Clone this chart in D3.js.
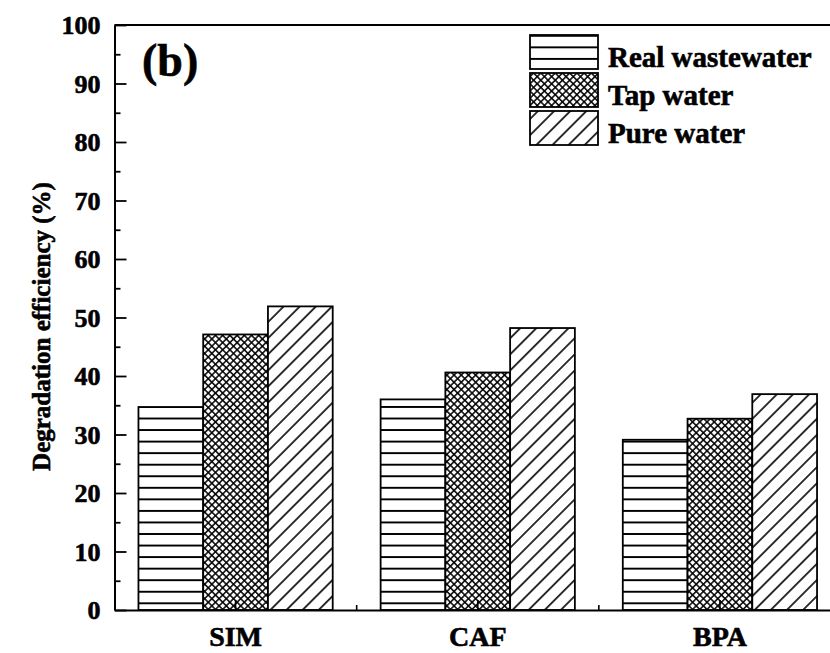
<!DOCTYPE html>
<html>
<head>
<meta charset="utf-8">
<script src="https://cdn.jsdelivr.net/npm/d3@7/dist/d3.min.js"></script>
<style>
  html, body { margin: 0; padding: 0; background: #fff; }
  svg { display: block; }
  text { font-family: "Liberation Serif", "Times New Roman", serif; font-weight: bold; fill: #000; stroke: #000; stroke-width: 0.6px; }
</style>
</head>
<body>
<svg id="chart" width="830" height="653"></svg>
<script>
// ---- data ----
const categories = ["SIM", "CAF", "BPA"];
const seriesNames = ["Real wastewater", "Tap water", "Pure water"];
const realWastewater = [34.7, 36.0, 29.1];
const tapWater = [47.1, 40.6, 32.7];
const pureWater = [51.9, 48.2, 36.9];
const yTickValues = [0, 10, 20, 30, 40, 50, 60, 70, 80, 90, 100];
const yTitle = "Degradation efficiency (%)";
const panelLabel = "(b)";

const seriesValues = [realWastewater, tapWater, pureWater];

// ---- layout ----
const mLeft = 114.5, mTop = 25, mBottom = 610, mRight = 841;

const svg = d3.select("#chart");
const defs = svg.append("defs");

function makePatterns(prefix, hOffsetY) {
  // horizontal lines
  const hp = 11.55;
  const ph = defs.append("pattern").attr("id", prefix + "h")
    .attr("patternUnits", "userSpaceOnUse")
    .attr("width", 20).attr("height", hp)
    .attr("patternTransform", `translate(0,${hOffsetY - hp / 2})`);
  ph.append("rect").attr("width", 20).attr("height", hp).attr("fill", "#fff");
  ph.append("line").attr("x1", 0).attr("x2", 20).attr("y1", hp / 2).attr("y2", hp / 2)
    .attr("stroke", "#000").attr("stroke-width", 1.9);

  // crosshatch
  const cs = 5.1;
  const pc = defs.append("pattern").attr("id", prefix + "c")
    .attr("patternUnits", "userSpaceOnUse")
    .attr("width", cs).attr("height", cs)
    .attr("patternTransform", "rotate(45)");
  pc.append("rect").attr("width", cs).attr("height", cs).attr("fill", "#fff");
  pc.append("line").attr("x1", 0).attr("x2", cs).attr("y1", cs / 2).attr("y2", cs / 2)
    .attr("stroke", "#000").attr("stroke-width", 1.5);
  pc.append("line").attr("y1", 0).attr("y2", cs).attr("x1", cs / 2).attr("x2", cs / 2)
    .attr("stroke", "#000").attr("stroke-width", 1.5);

  // diagonal "/"
  const ds = 11.4;
  const pd = defs.append("pattern").attr("id", prefix + "d")
    .attr("patternUnits", "userSpaceOnUse")
    .attr("width", ds).attr("height", ds)
    .attr("patternTransform", "rotate(-45)");
  pd.append("rect").attr("width", ds).attr("height", ds).attr("fill", "#fff");
  pd.append("line").attr("x1", 0).attr("x2", ds).attr("y1", ds / 2).attr("y2", ds / 2)
    .attr("stroke", "#000").attr("stroke-width", 1.6);
}
makePatterns("bar", 603.3);
makePatterns("leg", 47);
const fillsBar = ["url(#barh)", "url(#barc)", "url(#bard)"];
const fillsLeg = ["url(#legh)", "url(#legc)", "url(#legd)"];

// ---- scales ----
const x = d3.scaleBand().domain(categories).range([mLeft, mRight]).paddingInner(0).paddingOuter(0);
const xi = d3.scaleBand().domain(seriesNames).range([0, x.bandwidth()]).paddingInner(0).paddingOuter(0.37);
const y = d3.scaleLinear().domain([0, 100]).range([mBottom, mTop]);

// ---- bars ----
const groups = svg.append("g").selectAll("g").data(categories).join("g")
  .attr("transform", d => `translate(${x(d)},0)`);
groups.selectAll("rect")
  .data((c, ci) => seriesNames.map((s, si) => ({ s, si, v: seriesValues[si][ci] })))
  .join("rect")
  .attr("x", d => xi(d.s))
  .attr("width", xi.bandwidth())
  .attr("y", d => y(d.v))
  .attr("height", d => y(0) - y(d.v))
  .attr("fill", d => fillsBar[d.si])
  .attr("stroke", "#000")
  .attr("stroke-width", 1.8);

// ---- axes ----
const yAxis = d3.axisLeft(y).tickValues(yTickValues).tickSize(-12).tickSizeOuter(0).tickPadding(14)
  .tickFormat(d3.format("d"));
const gy = svg.append("g").attr("transform", `translate(${mLeft},0)`).call(yAxis);
gy.attr("font-family", null).attr("font-size", null);
gy.select(".domain").attr("stroke-width", 2);
gy.selectAll(".tick line").attr("stroke-width", 1.8);
gy.selectAll(".tick text").style("font-size", "26px").attr("dy", "0.34em");

const minorY = d3.range(5, 100, 10);
svg.append("g").attr("transform", `translate(${mLeft},0)`)
  .call(d3.axisLeft(y).tickValues(minorY).tickSize(-6).tickFormat(""))
  .call(g => g.select(".domain").remove())
  .selectAll(".tick line").attr("stroke-width", 1.8);

// top frame line
svg.append("line").attr("x1", mLeft).attr("x2", mRight).attr("y1", y(100)).attr("y2", y(100))
  .attr("stroke", "#000").attr("stroke-width", 2);

// bottom axis
const xAxis = d3.axisBottom(x).tickSize(-10).tickSizeOuter(0).tickPadding(0);
const gx = svg.append("g").attr("transform", `translate(0,${mBottom})`).call(xAxis);
gx.attr("font-family", null).attr("font-size", null);
gx.select(".domain").attr("stroke-width", 2.2);
gx.selectAll(".tick line").attr("stroke-width", 1.6);
gx.selectAll(".tick text").style("font-size", "28px").attr("y", 36).attr("dy", 0);

// minor x ticks at group boundaries
svg.append("g").selectAll("line").data(categories.slice(1)).join("line")
  .attr("x1", d => x(d)).attr("x2", d => x(d))
  .attr("y1", mBottom).attr("y2", mBottom - 5)
  .attr("stroke", "#000").attr("stroke-width", 1.6);

// y title
svg.append("text")
  .attr("transform", `translate(50,${(mTop + mBottom) / 2 + 9}) rotate(-90)`)
  .attr("text-anchor", "middle")
  .style("font-size", "25px")
  .text(yTitle);

// panel label
svg.append("text").attr("x", 142).attr("y", 76).style("font-size", "46px").text(panelLabel);

// ---- legend ----
const leg = svg.append("g").selectAll("g").data(seriesNames).join("g")
  .attr("transform", (d, i) => `translate(530,${35 + i * 38})`);
leg.append("rect").attr("width", 68).attr("height", 34)
  .attr("fill", (d, i) => fillsLeg[i]).attr("stroke", "#000").attr("stroke-width", 1.8);
leg.append("text").attr("x", 78).attr("y", 31.5).style("font-size", "29px").text(d => d);
</script>
</body>
</html>
